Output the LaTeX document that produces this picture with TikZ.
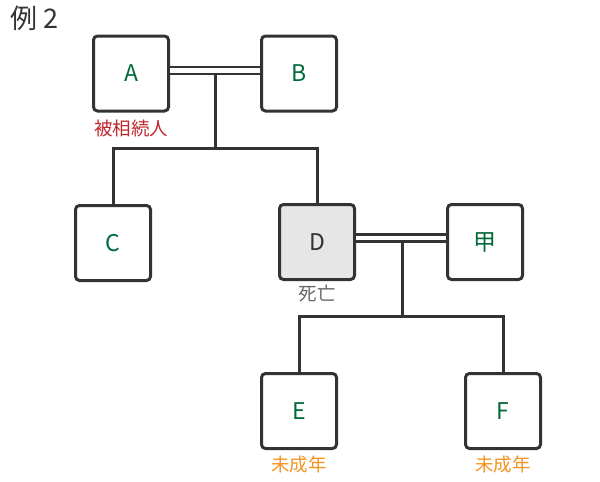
\documentclass[tikz,border=0pt]{standalone}
\usepackage{fontspec}
\setmainfont{Noto Sans CJK JP}
\usetikzlibrary{calc,positioning}
\definecolor{linegray}{HTML}{333333}
\definecolor{namegreen}{HTML}{006B3A}
\definecolor{heirred}{HTML}{C1272D}
\definecolor{minororange}{HTML}{F39322}
\definecolor{deadgray}{HTML}{666666}
\definecolor{deadfill}{HTML}{E6E6E6}

\begin{document}
\begin{tikzpicture}[x=1pt,y=-1pt,
    person/.style={draw=linegray,line width=3pt,rounded corners=4pt,fill=white,
      minimum size=75pt,inner sep=0pt,text=namegreen,
      font=\fontsize{23}{27}\selectfont},
    link/.style={draw=linegray,line width=3pt},
    marriage/.style={draw=linegray,line width=2.5pt,double=white,double distance=4.5pt},
    note/.style={font=\fontsize{18.5}{22}\selectfont}]
  \useasboundingbox (0,0) rectangle (600,482);
  \node[anchor=west,inner sep=0pt,text=linegray,font=\fontsize{27}{32}\selectfont] (title) at (10,18) {例 2};
  % first generation
  \node[person] (A) at (131,73.5) {A};
  \node[person] (B) at (299,73.5) {B};
  \node[note,text=heirred] (heir) at (131,128) {被相続人};
  \draw[marriage] ([yshift=3pt]A.east) -- ([yshift=3pt]B.west);
  % second generation
  \node[person] (C) at (113,243) {C};
  \node[person,fill=deadfill,text=linegray] (D) at (317,242) {D};
  \node[person] (kou) at (485,242) {甲};
  \node[note,text=deadgray] (dead) at (317,293) {死亡};
  \draw[marriage] ([yshift=4pt]D.east) -- ([yshift=4pt]kou.west);
  % third generation
  \node[person] (E) at (299,411) {E};
  \node[person] (F) at (503,411) {F};
  \node[note,text=minororange] (minorE) at (299,464) {未成年};
  \node[note,text=minororange] (minorF) at (503,464) {未成年};
  % descent lines
  \coordinate (m1) at (215,74);
  \coordinate (j1) at (215,148);
  \draw[link] (m1) -- (j1);
  \draw[link] (C.north) |- (j1) -| (D.north);
  \coordinate (m2) at (402,241);
  \coordinate (j2) at (402,316);
  \draw[link] (m2) -- (j2);
  \draw[link] (E.north) |- (j2) -| (F.north);
\end{tikzpicture}
\end{document}
